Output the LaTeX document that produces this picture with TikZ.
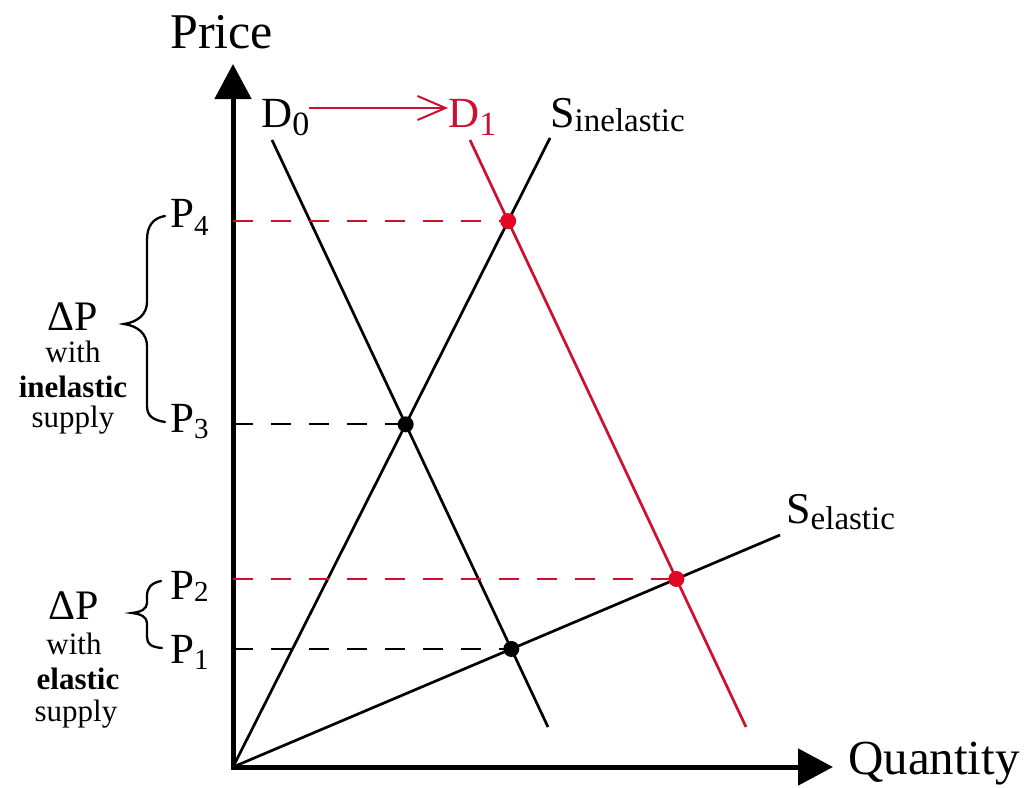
\documentclass[tikz,border=0pt]{standalone}
\usepackage{fontspec}
\setmainfont{Liberation Serif}
\usetikzlibrary{arrows.meta,intersections}
\definecolor{myred}{RGB}{204,16,46}
\definecolor{dotred}{RGB}{226,6,36}
\newcommand\myfs[1]{\fontsize{#1}{#1}\selectfont}
\newcommand\mysub[3]{\raisebox{-#2pt}{\myfs{#1}#3}}
\begin{document}
\begin{tikzpicture}[x=1pt,y=-1pt,
  lbl/.style={inner sep=0pt, anchor=base west},
  ctr/.style={inner sep=0pt, anchor=base},
  curve/.style={line width=2.7pt},
  guide/.style={line width=2.2pt, dash pattern=on 20pt off 18pt},
  axisline/.style={line width=5pt, {Triangle[length=35pt,width=36pt]}-{Triangle[length=35pt,width=36pt]}},
  bracepath/.style={line width=2.3pt, line cap=round},
  dotnode/.style={circle, inner sep=0pt, minimum size=16pt, fill}
]
\useasboundingbox (0,0) rectangle (1032,787);

% axes
\coordinate (O) at (233,767);
\coordinate (ytip) at (233,64);
\coordinate (xtip) at (833,767);
\draw[axisline] (ytip) -- (O) -- (xtip);

\node[lbl, font=\myfs{50}] (price) at (170,48) {Price};
\node[lbl, font=\myfs{49}] (qty) at (848,774) {Quantity};

% curve end points
\coordinate (d0a) at (272,140);
\coordinate (d0b) at (548,727);
\coordinate (d1a) at (470,140);
\coordinate (d1b) at (746,727);
\coordinate (sib) at (550,138);
\coordinate (seb) at (780,535);

\draw[curve, name path=d0] (d0a) -- (d0b);
\draw[curve, myred, name path=d1] (d1a) -- (d1b);
\draw[curve, name path=si] (O) -- (sib);
\draw[curve, name path=se] (O) -- (seb);

\path[name intersections={of=d1 and si, by=e4}];
\path[name intersections={of=d0 and si, by=e3}];
\path[name intersections={of=d1 and se, by=e2}];
\path[name intersections={of=d0 and se, by=e1}];

\draw[guide, myred] (O |- e4) -- (e4);
\draw[guide] (O |- e3) -- (e3);
\draw[guide, myred] (O |- e2) -- (e2);
\draw[guide] (O |- e1) -- (e1);

\node[dotnode, dotred] (p4dot) at (e4) {};
\node[dotnode, black] (p3dot) at (e3) {};
\node[dotnode, dotred] (p2dot) at (e2) {};
\node[dotnode, black] (p1dot) at (e1) {};

% curve labels
\node[lbl, font=\myfs{43}] (d0lbl) at (261,127) {D\mysub{34}{8}{0}};
\node[lbl, font=\myfs{43}, text=myred] (d1lbl) at (448,127) {D\mysub{34}{8}{1}};
\coordinate (arrowrow) at (0,108);
\draw[myred, line width=2pt, -{Straight Barb[length=28pt,width=24pt]}]
  (d0lbl.east |- arrowrow) -- (d1lbl.west |- arrowrow);
\node[lbl, font=\myfs{44}] (silbl) at (550,127) {S\mysub{33}{4}{inelastic}};
\node[lbl, font=\myfs{44}] (selbl) at (786,523) {S\mysub{33}{6}{elastic}};

% price labels
\node[lbl, font=\myfs{43}] (p4lbl) at (170,227) {P\mysub{29}{8}{4}};
\node[lbl, font=\myfs{43}] (p3lbl) at (170,432) {P\mysub{29}{6}{3}};
\node[lbl, font=\myfs{43}] (p2lbl) at (170,599) {P\mysub{29}{2}{2}};
\node[lbl, font=\myfs{43}] (p1lbl) at (170,663) {P\mysub{29}{6}{1}};

% braces
\draw[bracepath] (165,216) .. controls (153,218) and (147,226) .. (147,240)
  -- (147,302) .. controls (147,314) and (138,322) .. (124,324)
  .. controls (138,326) and (147,334) .. (147,346)
  -- (147,406) .. controls (147,416) and (153,420) .. (165,422);
\draw[bracepath] (161,581) .. controls (151,583) and (147,588) .. (147,596)
  -- (147,603) .. controls (147,609) and (141,612) .. (132,613)
  .. controls (141,614) and (147,617) .. (147,623)
  -- (147,637) .. controls (147,644) and (151,647) .. (162,648);

% Delta P texts
\node[ctr, font=\myfs{42}] (dpa) at (73,330) {ΔP};
\node[ctr, font=\myfs{31}] (witha) at (73,362) {with};
\node[ctr, font=\myfs{31}\bfseries] (inel) at (73,397) {inelastic};
\node[ctr, font=\myfs{31}] (supa) at (73,427) {supply};

\node[ctr, font=\myfs{42}] (dpb) at (74,619) {ΔP};
\node[ctr, font=\myfs{31}] (withb) at (74,654) {with};
\node[ctr, font=\myfs{31}\bfseries] (elas) at (78,689) {elastic};
\node[ctr, font=\myfs{31}] (supb) at (76,721) {supply};
\end{tikzpicture}
\end{document}
